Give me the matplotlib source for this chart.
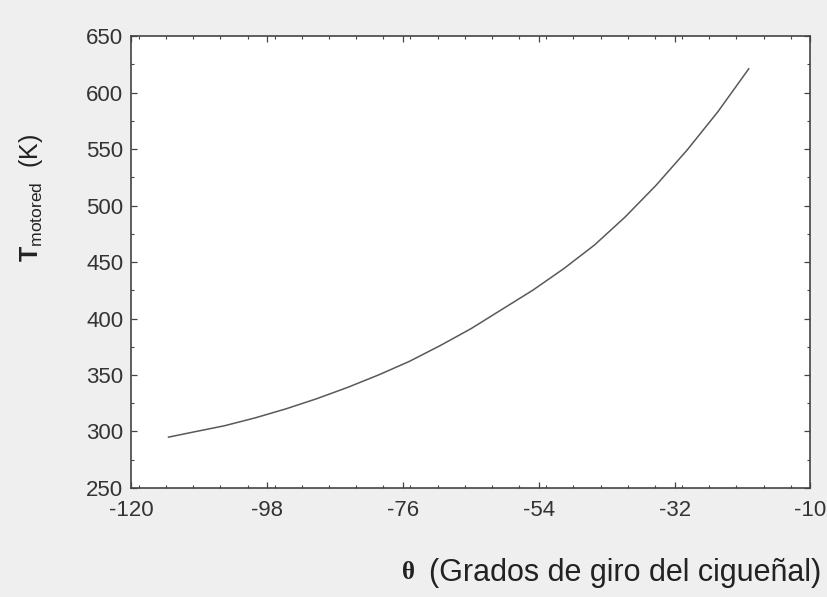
import numpy as np
import matplotlib.pyplot as plt
from matplotlib.ticker import MultipleLocator, FixedLocator

# Datos
theta = [-114, -110, -105, -100, -95, -90, -85, -80, -75, -70, -65,
         -60, -55, -50, -45, -40, -35, -30, -25, -20]
T_motored = [295, 299.5, 305, 312, 320, 329, 339, 350, 362, 376, 391,
             408, 425, 444, 465, 490, 518, 549, 583, 621]

x_ticks = [-120, -98, -76, -54, -32, -10]
y_ticks = [250, 300, 350, 400, 450, 500, 550, 600, 650]

plt.rcParams['font.family'] = ['Liberation Sans', 'DejaVu Sans']
plt.rcParams['axes.unicode_minus'] = False
plt.rcParams['mathtext.fontset'] = 'custom'
plt.rcParams['mathtext.rm'] = 'Liberation Sans'
plt.rcParams['mathtext.bf'] = 'Liberation Sans:bold'

fig = plt.figure(figsize=(8.27, 5.97), dpi=100, facecolor='#efefef')
ax = fig.add_axes([0.159, 0.1826, 0.821, 0.757])
ax.set_facecolor('white')

ax.plot(theta, T_motored, color='#595959', lw=1.1)

ax.set_xlim(-120, -10)
ax.set_ylim(250, 650)
ax.xaxis.set_major_locator(FixedLocator(x_ticks))
ax.xaxis.set_minor_locator(MultipleLocator(4.4))
ax.yaxis.set_major_locator(FixedLocator(y_ticks))
ax.yaxis.set_minor_locator(MultipleLocator(25))

ax.tick_params(which='both', direction='in', top=True, right=True,
               colors='#444444', labelcolor='#333333')
ax.tick_params(which='major', length=4, width=0.9, labelsize=16)
ax.tick_params(axis='x', which='major', pad=9)
ax.tick_params(axis='y', which='major', pad=6)
ax.tick_params(which='minor', length=2.5, width=0.8)
for s in ax.spines.values():
    s.set_color('#444444')
    s.set_linewidth(1.2)

# etiquetas
fig.text(0.038, 0.668, r'$\mathbf{T}_{\mathrm{motored}}$  (K)', rotation=90,
         ha='center', va='center', fontsize=18, color='#222222')
fig.text(0.494, 0.03, 'θ', family=['Liberation Serif', 'DejaVu Serif'],
         fontweight='bold', fontsize=18, ha='center', va='baseline', color='#222222')
fig.text(0.519, 0.027, '(Grados de giro del cigueñal)', fontsize=22,
         ha='left', va='baseline', color='#222222')

fig.savefig('out.png', dpi=100, facecolor=fig.get_facecolor())
